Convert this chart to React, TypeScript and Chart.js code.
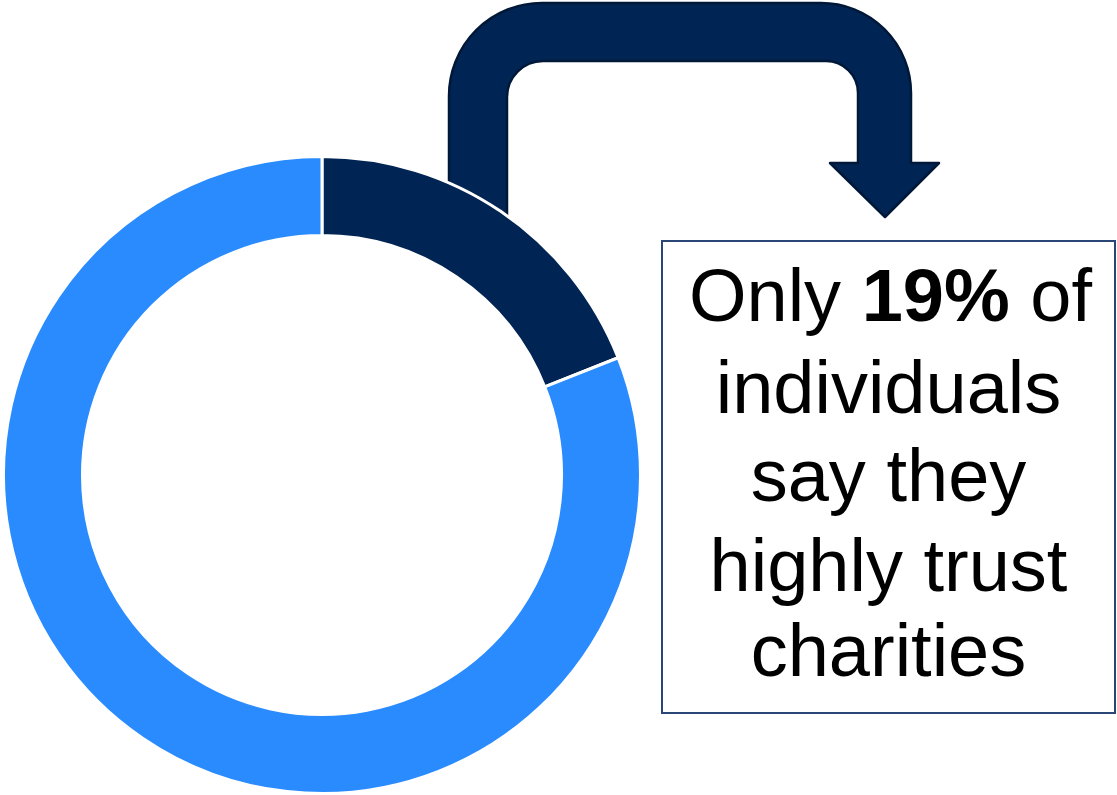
import React, { useEffect, useRef } from "react";
import { Chart, registerables } from "chart.js";

Chart.register(...registerables);

const categories = ["Highly trust charities", "Do not highly trust"];
const shareValues = [19, 81];
const sliceColors = ["#002453", "#2A8BFF"];
const calloutLines = ["individuals", "say they", "highly trust", "charities"];
const highlightValue = "19%";

const FONT = "'Liberation Sans', Arial, Helvetica, sans-serif";

const arrowPlugin = {
  id: "bentArrow",
  beforeDatasetsDraw(chart: any) {
    const ctx = chart.ctx as CanvasRenderingContext2D;
    const xoL = 449, xiL = 507, yoT = 3, yiT = 61;
    const xiR = 858, xoR = 911, yBase = 163;
    const Ro = 93, RoR = 90, Ri = 36, RiR = 32;
    const bottom = 270;
    ctx.save();
    ctx.beginPath();
    ctx.moveTo(xoL, bottom);
    ctx.lineTo(xoL, yoT + Ro);
    ctx.arcTo(xoL, yoT, xoL + Ro, yoT, Ro);
    ctx.lineTo(xoR - RoR, yoT);
    ctx.arcTo(xoR, yoT, xoR, yoT + RoR, RoR);
    ctx.lineTo(xoR, yBase);
    ctx.lineTo(939, yBase);
    ctx.lineTo(885, 217);
    ctx.lineTo(830, yBase);
    ctx.lineTo(xiR, yBase);
    ctx.lineTo(xiR, yiT + RiR);
    ctx.arcTo(xiR, yiT, xiR - RiR, yiT, RiR);
    ctx.lineTo(xiL + Ri, yiT);
    ctx.arcTo(xiL, yiT, xiL, yiT + Ri, Ri);
    ctx.lineTo(xiL, bottom);
    ctx.closePath();
    ctx.fillStyle = "#002453";
    ctx.fill();
    ctx.lineWidth = 2.5;
    ctx.lineJoin = "round";
    ctx.strokeStyle = "#001838";
    ctx.stroke();
    ctx.restore();
  },
};

export default function App() {
  const canvasRef = useRef<HTMLCanvasElement | null>(null);

  useEffect(() => {
    if (!canvasRef.current) return;
    const chart = new Chart(canvasRef.current, {
      type: "doughnut",
      data: {
        labels: categories,
        datasets: [
          {
            data: shareValues,
            backgroundColor: sliceColors,
            borderColor: "#ffffff",
            borderWidth: 3,
            hoverBorderWidth: 3,
            hoverOffset: 0,
          },
        ],
      },
      options: {
        responsive: false,
        animation: false,
        cutout: "75.2%",
        layout: { padding: { left: 2, top: 155, right: 475, bottom: 0 } },
        plugins: {
          legend: { display: false },
          tooltip: { enabled: false },
        },
        events: [],
      },
      plugins: [arrowPlugin],
    });
    return () => chart.destroy();
  }, []);

  const baselines = [414, 502, 592, 677];
  const lineTop = (b: number) => b - 62.6;

  return (
    <div
      style={{
        position: "absolute",
        left: 0,
        top: 0,
        width: 1117,
        height: 795,
        background: "#ffffff",
        overflow: "hidden",
      }}
    >
      <canvas
        ref={canvasRef}
        width={1117}
        height={795}
        style={{ position: "absolute", left: 0, top: 0, width: 1117, height: 795 }}
      />
      <div
        style={{
          position: "absolute",
          left: 661,
          top: 240,
          width: 451,
          height: 470,
          border: "2px solid #2A4677",
          background: "#ffffff",
        }}
      />
      <div
        style={{
          position: "absolute",
          left: 664,
          top: lineTop(322),
          width: 453,
          textAlign: "center",
          fontFamily: FONT,
          fontSize: 74,
          lineHeight: "74px",
          color: "#000",
          whiteSpace: "nowrap",
        }}
      >
        Only <b>{highlightValue}</b> of
      </div>
      {calloutLines.map((t, i) => (
        <div
          key={t}
          style={{
            position: "absolute",
            left: 662,
            top: lineTop(baselines[i]),
            width: 453,
            textAlign: "center",
            fontFamily: FONT,
            fontSize: 74,
            lineHeight: "74px",
            color: "#000",
            whiteSpace: "nowrap",
          }}
        >
          {t}
        </div>
      ))}
    </div>
  );
}
